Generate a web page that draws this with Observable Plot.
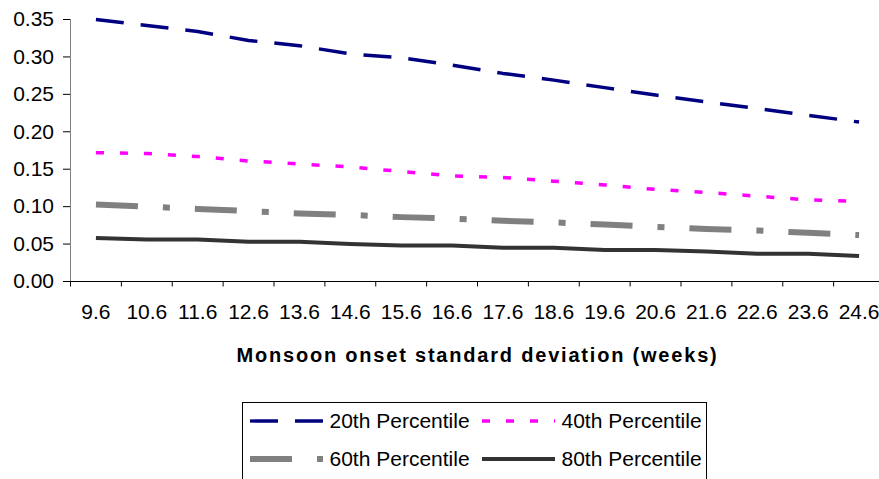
<!DOCTYPE html>
<html>
<head>
<meta charset="utf-8">
<script src="https://cdn.jsdelivr.net/npm/d3@7"></script>
<script src="https://cdn.jsdelivr.net/npm/@observablehq/plot@0.6"></script>
<style>
  html, body { margin: 0; padding: 0; background: #fff; overflow: hidden; }
  #wrap { position: relative; width: 879px; height: 479px; font-family: Arial, "Liberation Sans", sans-serif; }
  #chart svg { overflow: visible; position: absolute; left: 0; top: 0; }
  #xtitle { position: absolute; left: 0; width: 955px; top: 344.8px; text-align: center; font-weight: bold; font-size: 20px; line-height: 20px; letter-spacing: 1.8px; color: #000; }
  #legend { position: absolute; left: 241.5px; top: 401.5px; width: 465px; height: 100px; border: 1px solid #000; box-sizing: border-box; background: #fff; }
  .item { position: absolute; height: 24px; display: flex; align-items: center; font-size: 21px; color: #000; white-space: nowrap; }
  .item svg { margin-right: 7px; }
</style>
</head>
<body>
<div id="wrap">
  <div id="chart"></div>
  <div id="xtitle"></div>
  <div id="legend"></div>
</div>
<script>
// ---- data ----
const categories = ["9.6","10.6","11.6","12.6","13.6","14.6","15.6","16.6","17.6","18.6","19.6","20.6","21.6","22.6","23.6","24.6"];
const p20 = [0.350,0.342,0.334,0.322,0.315,0.304,0.299,0.289,0.278,0.269,0.259,0.249,0.240,0.231,0.222,0.213];
const p40 = [0.172,0.171,0.167,0.161,0.157,0.153,0.147,0.141,0.139,0.134,0.129,0.123,0.119,0.114,0.109,0.107];
const p60 = [0.103,0.100,0.097,0.094,0.091,0.089,0.086,0.084,0.081,0.079,0.076,0.073,0.070,0.068,0.065,0.062];
const p80 = [0.058,0.056,0.056,0.053,0.053,0.050,0.048,0.048,0.045,0.045,0.042,0.042,0.040,0.037,0.037,0.034];
const seriesNames = ["20th Percentile","40th Percentile","60th Percentile","80th Percentile"];
const yTicks = [0,0.05,0.10,0.15,0.20,0.25,0.30,0.35];
const xTitle = "Monsoon onset standard deviation (weeks)";

// ---- styles ----
const seriesStyle = [
  {stroke: "#000080", width: 3.5, dash: "28,17"},
  {stroke: "#ff00ff", width: 3.5, dash: "8,16"},
  {stroke: "#808080", width: 6, dash: "42,25,7,25"},
  {stroke: "#333333", width: 4, dash: null}
];

const allSeries = [p20, p40, p60, p80];
const rows = [];
allSeries.forEach((vals, s) => vals.forEach((v, i) => rows.push({series: seriesNames[s], i, cat: categories[i], v})));

const idx = categories.map((c, i) => i);
const bounds = d3.range(categories.length + 1).map(i => i - 0.5);

const marks = [];
marks.push(Plot.ruleX([-0.5], {stroke: "#808080", strokeWidth: 1}));
marks.push(Plot.axisY({ticks: yTicks, tickFormat: d => d.toFixed(2), tickSize: 7, tickPadding: 9.5, stroke: "#000", fill: "#000", label: null}));
marks.push(Plot.axisX({ticks: idx, tickFormat: i => categories[i], tickSize: 0, tickPadding: 23, fill: "#000", label: null}));
marks.push(Plot.axisX({ticks: bounds, tickFormat: () => "", tickSize: 5.5, stroke: "#000", label: null}));
marks.push(Plot.ruleY([0], {stroke: "#000", strokeWidth: 1.2}));
seriesNames.forEach((name, s) => {
  const st = seriesStyle[s];
  marks.push(Plot.line(rows.filter(r => r.series === name), {
    x: "i", y: "v", stroke: st.stroke, strokeWidth: st.width,
    strokeDasharray: st.dash || undefined, strokeLinecap: "butt", strokeLinejoin: "round"
  }));
});

const chart = Plot.plot({
  width: 879,
  height: 375,
  marginLeft: 70,
  marginTop: 19,
  marginBottom: 94,
  marginRight: 0,
  style: {fontFamily: "Arial, 'Liberation Sans', sans-serif", fontSize: "21px", color: "#000", background: "transparent", overflow: "visible"},
  x: {type: "linear", domain: [-0.5, categories.length - 0.5], range: [70, 884], axis: null},
  y: {domain: [0, 0.35], axis: null},
  marks
});
document.getElementById("chart").appendChild(chart);

document.getElementById("xtitle").textContent = xTitle;

// ---- legend ----
const legend = document.getElementById("legend");
seriesNames.forEach((name, s) => {
  const st = seriesStyle[s];
  const row = Math.floor(s / 2), col = s % 2;
  const item = document.createElement("div");
  item.className = "item";
  item.style.left = (7 + col * 232) + "px";
  item.style.top = (18.5 + row * 37.6 - 12) + "px";
  const svg = d3.create("svg").attr("width", 73).attr("height", 10);
  svg.append("line").attr("x1", 0).attr("x2", 73).attr("y1", 5).attr("y2", 5)
    .attr("stroke", st.stroke).attr("stroke-width", s === 2 ? 6 : (s === 3 ? 4 : 3.3))
    .attr("stroke-dasharray", st.dash);
  item.appendChild(svg.node());
  const t = document.createElement("span");
  t.textContent = name;
  item.appendChild(t);
  legend.appendChild(item);
});
</script>
</body>
</html>
